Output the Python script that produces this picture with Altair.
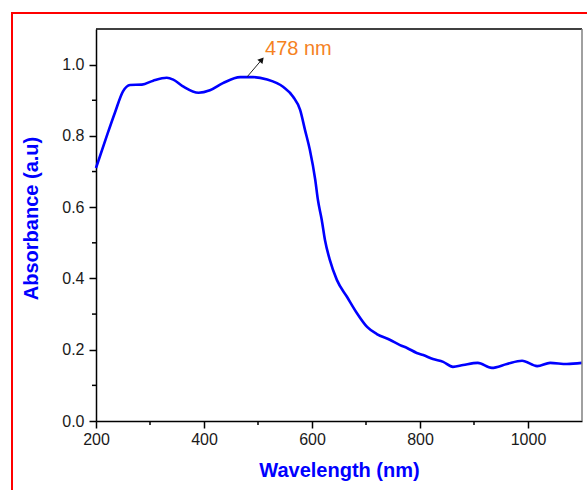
import altair as alt
import pandas as pd
import math

# ---- data ----
wavelength = [200, 220, 235, 250, 263, 285, 306, 331, 343, 362, 390, 411, 435, 467, 491,
              517, 547, 565, 578, 587, 596, 606, 611, 618, 624, 633, 646, 665, 683, 702,
              720, 744, 763, 776, 794, 806, 824, 843, 861, 880, 907, 933, 961, 989, 1017,
              1041, 1072, 1100]
absorbance = [0.71, 0.80, 0.865, 0.925, 0.943, 0.944, 0.955, 0.963, 0.958, 0.938, 0.921,
              0.928, 0.948, 0.965, 0.965, 0.958, 0.937, 0.91, 0.873, 0.817, 0.761, 0.677,
              0.62, 0.565, 0.508, 0.452, 0.396, 0.348, 0.303, 0.264, 0.244, 0.228, 0.213,
              0.205, 0.191, 0.185, 0.174, 0.166, 0.152, 0.157, 0.163, 0.149, 0.160, 0.169,
              0.154, 0.163, 0.160, 0.163]

x_major = [200, 400, 600, 800, 1000]
x_minor = [300, 500, 700, 900]
y_major = [0.0, 0.2, 0.4, 0.6, 0.8, 1.0]
y_minor = [0.1, 0.3, 0.5, 0.7, 0.9]

peak_label = ["478 nm"]
arrow_tail = [480, 0.966]
arrow_head = [507, 1.014]
label_pos = [513, 1.045]

W, H = 486, 392
FONT = "Liberation Sans"
BLUE = "#0000FF"

xs = alt.Scale(domain=[200, 1100], nice=False, zero=False)
ys = alt.Scale(domain=[0, 1.1], nice=False, zero=False)

df = pd.DataFrame({"w": wavelength, "a": absorbance})

line = alt.Chart(df).mark_line(color=BLUE, strokeWidth=2.6, interpolate="monotone").encode(
    x=alt.X("w:Q", scale=xs,
            axis=alt.Axis(values=x_major, title="Wavelength (nm)", grid=False,
                          tickSize=7, tickWidth=1.5, tickColor="black",
                          domainColor="black", domainWidth=1.5,
                          labelFont=FONT, labelFontSize=16, labelColor="#1a1a1a",
                          labelPadding=3, format="d", labelFlush=False, labelOverlap=False,
                          titleFont=FONT, titleFontSize=20, titleFontWeight="bold",
                          titleColor=BLUE, titlePadding=13)),
    y=alt.Y("a:Q", scale=ys,
            axis=alt.Axis(values=y_major, title="Absorbance (a.u)", grid=False,
                          tickSize=7, tickWidth=1.5, tickColor="black",
                          domainColor="black", domainWidth=1.5,
                          labelFont=FONT, labelFontSize=16, labelColor="#1a1a1a",
                          labelPadding=5, format=".1f", labelFlush=False, labelOverlap=False,
                          titleFont=FONT, titleFontSize=20, titleFontWeight="bold",
                          titleColor=BLUE, titlePadding=20, titleY=189)),
)

xminor = alt.Chart(pd.DataFrame({"v": x_minor})).mark_rule(color="black", strokeWidth=1.5).encode(
    x=alt.X("v:Q", scale=xs, axis=None),
    y=alt.value(H), y2=alt.value(H + 4),
)
yminor = alt.Chart(pd.DataFrame({"v": y_minor})).mark_rule(color="black", strokeWidth=1.5).encode(
    y=alt.Y("v:Q", scale=ys, axis=None),
    x=alt.value(0), x2=alt.value(-4),
)

top_line = alt.Chart(pd.DataFrame({"k": [0]})).mark_rule(color="black", strokeWidth=1.5).encode(
    x=alt.value(0), x2=alt.value(W), y=alt.value(0))
right_line = alt.Chart(pd.DataFrame({"k": [0]})).mark_rule(color="#808080", strokeWidth=1.5).encode(
    x=alt.value(W), y=alt.value(0), y2=alt.value(H))

border = alt.Chart(pd.DataFrame({"k": [0]})).mark_rect(
    fill=None, stroke="#FF0000", strokeWidth=2, clip=False).encode(
    x=alt.value(-84), x2=alt.value(W + 40), y=alt.value(-16), y2=alt.value(H + 100))

arr_df = pd.DataFrame({"x": [arrow_tail[0]], "y": [arrow_tail[1]],
                       "x2": [arrow_head[0]], "y2": [arrow_head[1]]})
arrow_shaft = alt.Chart(arr_df).mark_rule(color="#222222", strokeWidth=1).encode(
    x=alt.X("x:Q", scale=xs, axis=None), y=alt.Y("y:Q", scale=ys, axis=None),
    x2="x2:Q", y2="y2:Q")

# direction angle in screen space
dxp = (arrow_head[0] - arrow_tail[0]) * W / 900
dyp = (arrow_head[1] - arrow_tail[1]) * H / 1.1
ang = math.degrees(math.atan2(dxp, dyp))
head_df = pd.DataFrame({"x": [arrow_head[0]], "y": [arrow_head[1]]})
arrow_head_mark = alt.Chart(head_df).mark_point(
    shape="triangle-up", filled=True, color="#111111", size=45, angle=ang, opacity=1).encode(
    x=alt.X("x:Q", scale=xs, axis=None), y=alt.Y("y:Q", scale=ys, axis=None))

lab_df = pd.DataFrame({"x": [label_pos[0]], "y": [label_pos[1]], "t": peak_label})
label = alt.Chart(lab_df).mark_text(
    align="left", baseline="middle", font=FONT, fontSize=20, color="#F5821F").encode(
    x=alt.X("x:Q", scale=xs, axis=None), y=alt.Y("y:Q", scale=ys, axis=None), text="t:N")

chart = alt.layer(
    border, line, xminor, yminor, top_line, right_line, arrow_shaft, arrow_head_mark, label
).resolve_axis(x="independent", y="independent").properties(
    width=W, height=H,
    autosize=alt.AutoSizeParams(type="none"),
    padding={"left": 96, "top": 29, "right": 5, "bottom": 69},
    background="white",
).configure_view(stroke=None)

chart.save("out.html", embed_options={"renderer": "svg", "actions": False})
